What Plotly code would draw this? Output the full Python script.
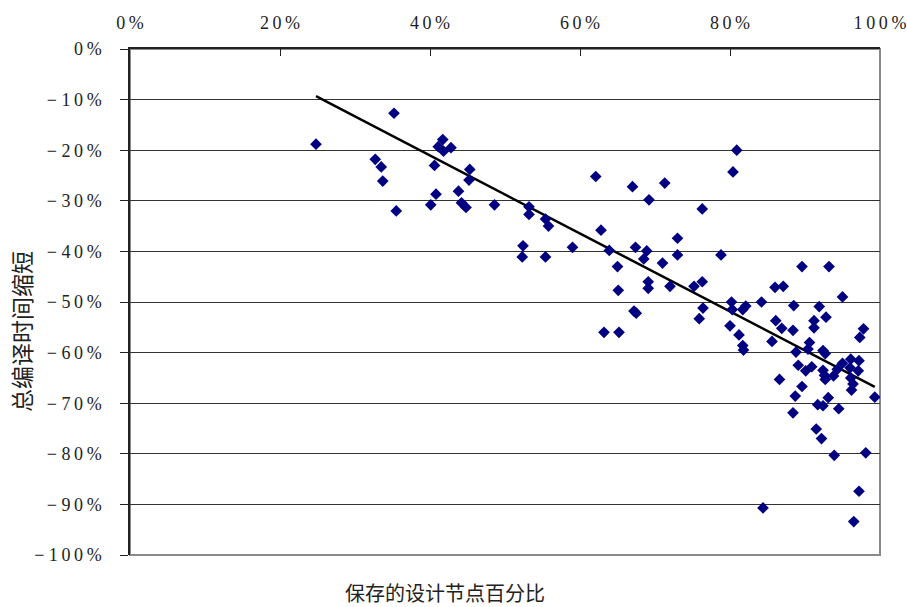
import numpy as np
import plotly.graph_objects as go

# Saved design nodes (%) vs. total compile-time change (%)
saved_nodes_pct = [
    24.8, 35.2, 32.7, 33.5, 33.7, 35.5, 40.6, 40.8, 40.1, 41.7,
    41.1, 41.8, 42.8, 45.3, 45.2, 43.8, 44.2, 44.8, 48.6, 62.1,
    67.0, 71.3, 69.2, 53.2, 53.2, 55.4, 55.8, 76.3, 80.9, 80.4,
    52.4, 52.3, 55.4, 59.0, 62.8, 63.9, 65.0, 67.4, 68.9, 68.5,
    71.0, 73.0, 73.0, 78.8, 65.1, 67.2, 67.5, 69.1, 69.1, 72.0,
    75.2, 76.3, 76.4, 75.9, 63.2, 65.2, 80.2, 80.3, 81.7, 82.1,
    80.0, 81.2, 81.7, 81.8, 89.6, 93.2, 86.0, 87.1, 95.0, 84.2,
    88.5, 91.9, 92.8, 91.2, 91.2, 86.1, 86.9, 88.4, 97.8, 97.3,
    85.6, 90.6, 88.8, 90.4, 92.4, 92.7, 89.1, 90.9, 90.1, 92.4,
    92.6, 93.8, 94.3, 95.0, 96.1, 97.2, 96.0, 97.1, 96.1, 96.4,
    96.2, 99.3, 92.7, 86.6, 89.6, 88.7, 93.1, 91.7, 92.4, 94.5,
    88.4, 91.5, 92.2, 93.9, 98.1, 97.2, 84.4, 96.5,
]
time_change_pct = [
    -18.8, -12.7, -21.8, -23.3, -26.1, -32.0, -23.0, -28.7, -30.8, -17.9,
    -19.3, -20.2, -19.5, -23.8, -25.9, -28.1, -30.4, -31.3, -30.8, -25.2,
    -27.2, -26.5, -29.8, -31.2, -32.7, -33.6, -35.0, -31.6, -20.0, -24.3,
    -38.9, -41.1, -41.1, -39.2, -35.8, -39.8, -43.0, -39.2, -39.9, -41.5,
    -42.3, -37.4, -40.7, -40.7, -47.7, -51.8, -52.2, -46.0, -47.3, -46.9,
    -46.9, -46.0, -51.2, -53.3, -56.0, -56.0, -50.0, -51.5, -51.5, -50.8,
    -54.7, -56.5, -58.6, -59.5, -43.0, -43.0, -47.1, -46.9, -49.0, -50.0,
    -50.7, -50.9, -53.0, -53.7, -55.1, -53.7, -55.2, -55.6, -55.3, -57.0,
    -57.8, -58.0, -59.9, -59.3, -59.6, -60.2, -62.5, -62.8, -63.6, -63.5,
    -64.5, -64.6, -63.3, -62.1, -61.3, -61.6, -63.0, -63.6, -65.0, -66.2,
    -67.4, -68.8, -65.3, -65.3, -66.7, -68.6, -68.9, -70.3, -70.5, -71.1,
    -71.9, -75.1, -77.0, -80.3, -79.8, -87.4, -90.7, -93.4,
]

# Linear trendline as shown in the chart
trend_slope = -0.771
trend_intercept = 9.8

x_tick_vals = [0, 20, 40, 60, 80, 100]
y_tick_vals = [0, -10, -20, -30, -40, -50, -60, -70, -80, -90, -100]

x_title = "保存的设计节点百分比"
y_title = "总编译时间缩短"

TS = "\u2009"


def spaced(s):
    return TS.join(list(s))


def fmt_pct(v):
    if v < 0:
        return "\u2212 " + spaced(f"{-v}%")
    return spaced(f"{v}%")


x_arr = np.array(saved_nodes_pct)
trend_x = np.array([x_arr.min(), x_arr.max()])
trend_y = trend_slope * trend_x + trend_intercept

fig = go.Figure()

fig.add_trace(go.Scatter(
    x=trend_x, y=trend_y, mode="lines",
    line=dict(color="black", width=2.5),
    hoverinfo="skip", showlegend=False,
))

fig.add_trace(go.Scatter(
    x=saved_nodes_pct, y=time_change_pct, mode="markers",
    marker=dict(symbol="diamond", size=9, color="#000080",
                line=dict(width=0)),
    showlegend=False,
))

tick_font = dict(family="Liberation Serif, serif", size=18, color="#222")

L, R, T, B = 130, 27, 49, 52
PW = 907 - L - R
PH = 607 - T - B

fig.update_layout(
    width=907, height=607,
    margin=dict(l=L, r=R, t=T, b=B),
    paper_bgcolor="white", plot_bgcolor="white",
    xaxis=dict(
        side="top", range=[0, 100], automargin=False,
        tickvals=x_tick_vals, ticktext=[fmt_pct(v) for v in x_tick_vals],
        ticks="inside", ticklen=7, tickcolor="#222", tickwidth=1,
        ticklabelstandoff=11, ticklabeloverflow="allow",
        showgrid=False, zeroline=False,
        showline=True, linecolor="#222", linewidth=1.5,
        tickfont=tick_font,
    ),
    yaxis=dict(
        range=[-100, 0], automargin=False,
        tickvals=y_tick_vals, ticktext=[fmt_pct(v) for v in y_tick_vals],
        ticks="outside", ticklen=8, tickcolor="#222", tickwidth=1,
        ticklabelstandoff=15, ticklabeloverflow="allow",
        showgrid=True, gridcolor="#333", gridwidth=1,
        zeroline=False,
        showline=True, linecolor="#222", linewidth=1.5,
        tickfont=tick_font,
    ),
    shapes=[dict(type="rect", xref="paper", yref="paper",
                 x0=0, x1=1, y0=0, y1=1,
                 line=dict(color="#8a8a8a", width=2), layer="below")],
    annotations=[
        dict(text=x_title, xref="paper", yref="paper",
             x=(445 - L) / PW, y=-(592 - (T + PH)) / PH,
             showarrow=False, xanchor="center", yanchor="middle",
             font=dict(family="Noto Sans CJK SC", size=20, color="#222")),
        dict(text=y_title, xref="paper", yref="paper",
             x=-(L - 21) / PW, y=1 - (332 - T) / PH,
             textangle=-90,
             showarrow=False, xanchor="center", yanchor="middle",
             font=dict(family="Noto Sans CJK SC", size=23, color="#222")),
    ],
)

fig.write_html(
    "out.html",
    config={"displayModeBar": False},
    post_script="document.body.style.margin='0';document.body.style.overflow='hidden';",
)
